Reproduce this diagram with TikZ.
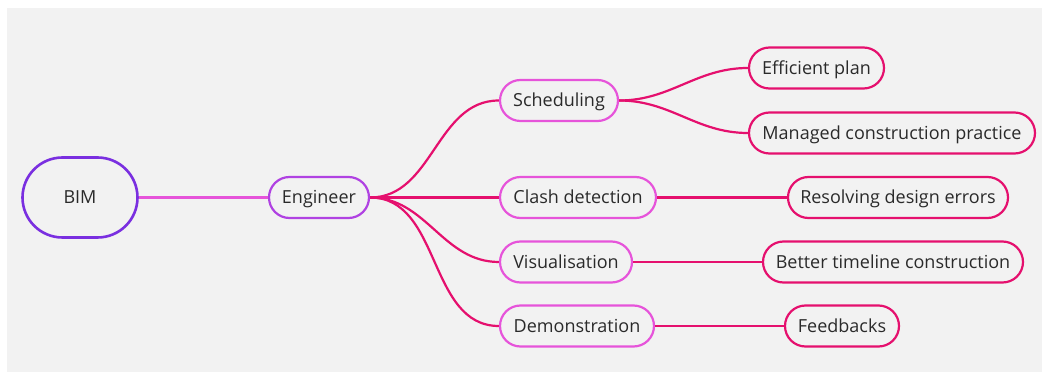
\documentclass[tikz,border=0pt]{standalone}
\usepackage{fontspec}
\setmainfont{Open Sans}
\definecolor{bgc}{HTML}{F2F2F2}
\definecolor{rootc}{HTML}{7A2FE0}
\definecolor{engc}{HTML}{B042E2}
\definecolor{lvl2c}{HTML}{E654DA}
\definecolor{lvl3c}{HTML}{E5106E}
\definecolor{txtc}{HTML}{2A2A2A}
\begin{document}
\begin{tikzpicture}[x=1pt,y=-1pt,
  base/.style={rounded corners=20.5pt,line width=2.2pt,text=txtc,font=\fontsize{18}{21}\selectfont,inner sep=0pt,minimum height=41pt,text height=14pt,text depth=1.2pt},
  rootbox/.style={base,draw=rootc,rounded corners=40pt,minimum height=80pt,minimum width=115pt,line width=2.6pt},
  engbox/.style={base,draw=engc},
  midbox/.style={base,draw=lvl2c},
  leafbox/.style={base,draw=lvl3c},
  link/.style={draw=lvl3c,line width=2.2pt},
  rootlink/.style={draw=lvl2c,line width=2.2pt}]
\useasboundingbox (0,0) rectangle (1042,379);
\fill[white] (0,0) rectangle (1042,379);
\fill[bgc] (7,8) rectangle (1042,372);
\node[rootbox] (bim) at (80,197.5) {BIM};
\node[engbox,minimum width=100pt] (eng) at (319,197.5) {Engineer};
\node[midbox,minimum width=118pt] (sch) at (559,100.5) {Scheduling};
\node[midbox,minimum width=156pt] (cla) at (578,197.5) {Clash detection};
\node[midbox,minimum width=132pt] (vis) at (566,262) {Visualisation};
\node[midbox,minimum width=154pt] (dem) at (577,326) {Demonstration};
\node[leafbox,minimum width=135pt] (eff) at (816.5,68) {Efficient plan};
\node[leafbox,minimum width=286pt] (man) at (892,133) {Managed construction practice};
\node[leafbox,minimum width=220pt] (res) at (898,197.5) {Resolving design errors};
\node[leafbox,minimum width=260pt] (bet) at (893,262) {Better timeline construction};
\node[leafbox,minimum width=114pt] (fee) at (842,326) {Feedbacks};
\draw[rootlink] (bim.east) -- (eng.west);
\draw[link] (eng.east) to[out=0,in=180] (sch.west);
\draw[link] (eng.east) -- (cla.west);
\draw[link] (eng.east) to[out=0,in=180] (vis.west);
\draw[link] (eng.east) to[out=0,in=180] (dem.west);
\draw[link] (sch.east) to[out=0,in=180] (eff.west);
\draw[link] (sch.east) to[out=0,in=180] (man.west);
\draw[link] (cla.east) -- (res.west);
\draw[link] (vis.east) -- (bet.west);
\draw[link] (dem.east) -- (fee.west);
\end{tikzpicture}
\end{document}
